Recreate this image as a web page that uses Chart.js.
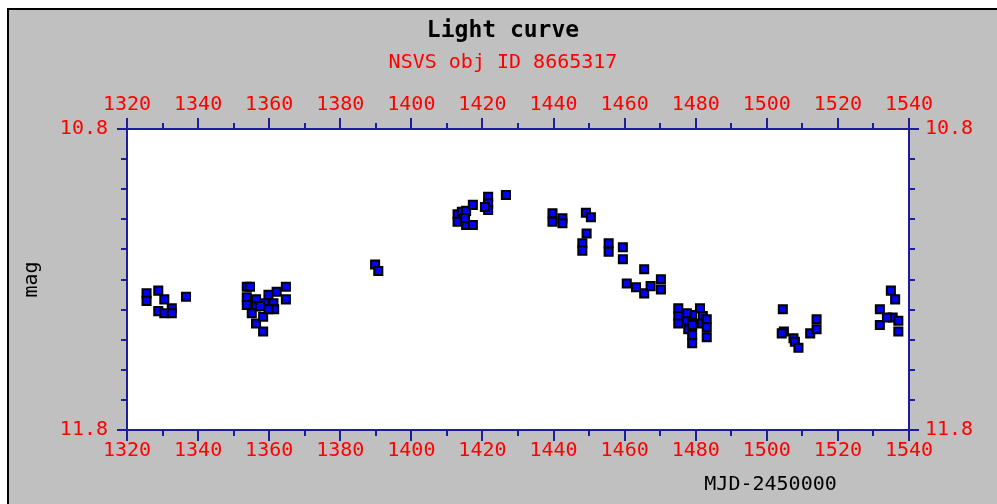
<!DOCTYPE html>
<html>
<head>
<meta charset="utf-8">
<title>Light curve</title>
<script src="https://cdn.jsdelivr.net/npm/chart.js@4/dist/chart.umd.min.js"></script>
<style>
  html, body { margin: 0; padding: 0; background: #fff; }
  #frame {
    position: absolute;
    left: 7px;
    top: 8px;
    width: 988px;
    height: 494px;
    border-top: 2px solid #000;
    border-left: 2px solid #000;
    background: #c0c0c0;
  }
  canvas { display: block; }
</style>
</head>
<body>
<div id="frame"><canvas id="lc" width="988" height="494"></canvas></div>
<script>
// observations: MJD-2450000 and magnitude
const mjd = [
  1325.5, 1325.5, 1328.8, 1330.5, 1328.8, 1330.5, 1332.6, 1332.6, 1336.6,
  1353.7, 1354.6, 1353.7, 1353.7, 1356.3, 1356.3, 1355.1, 1356.3, 1358.3, 1358.3,
  1358.8, 1359.8, 1361.2, 1361.4, 1362.1, 1364.7, 1364.7, 1357.4, 1359.8,
  1389.8, 1390.7,
  1413.0, 1413.0, 1414.2, 1415.4, 1417.3, 1415.4, 1417.3, 1421.6, 1421.6, 1421.6,
  1420.7, 1426.6, 1415.1,
  1439.7, 1439.7, 1442.5, 1442.5, 1449.1, 1450.5, 1449.3, 1448.1, 1448.1, 1455.5,
  1455.5, 1459.5, 1459.5, 1465.5, 1460.6, 1463.2, 1465.5, 1467.3, 1470.2, 1470.2,
  1475.1, 1475.1, 1475.1, 1477.5, 1477.9, 1479.0, 1479.0, 1479.0, 1479.0, 1481.2,
  1482.0, 1481.7, 1483.1, 1483.1, 1483.1, 1477.5,
  1504.5, 1504.8, 1504.2, 1507.5, 1507.9, 1508.9, 1512.2, 1514.0, 1514.0,
  1534.9, 1536.1, 1531.8, 1531.8, 1535.4, 1537.0, 1537.0, 1533.8
];
const mag = [
  11.346, 11.371, 11.337, 11.366, 11.405, 11.412, 11.396, 11.412, 11.357,
  11.324, 11.324, 11.359, 11.385, 11.366, 11.390, 11.412, 11.446, 11.473, 11.424,
  11.379, 11.351, 11.379, 11.399, 11.341, 11.324, 11.366, 11.388, 11.399,
  11.250, 11.272,
  11.083, 11.108, 11.075, 11.072, 11.052, 11.119, 11.119, 11.025, 11.047, 11.069,
  11.059, 11.019, 11.096,
  11.080, 11.108, 11.097, 11.113, 11.078, 11.093, 11.147, 11.180, 11.204, 11.180,
  11.208, 11.193, 11.233, 11.266, 11.313, 11.326, 11.346, 11.322, 11.299, 11.333,
  11.396, 11.421, 11.446, 11.435, 11.465, 11.418, 11.451, 11.484, 11.512, 11.396,
  11.421, 11.446, 11.432, 11.459, 11.492, 11.412,
  11.399, 11.473, 11.479, 11.495, 11.507, 11.527, 11.479, 11.432, 11.465,
  11.337, 11.366, 11.399, 11.451, 11.426, 11.437, 11.473, 11.426
];

// axis ticks
const xMin = 1320, xMax = 1540, xStep = 20;
const xMinorTicks = [1330, 1350, 1370, 1390, 1410, 1430, 1450, 1470, 1490, 1510, 1530];
const yMin = 10.8, yMax = 11.8;
const yTicks = [10.8, 11.8];
const yMinorTicks = [10.9, 11.0, 11.1, 11.2, 11.3, 11.4, 11.5, 11.6, 11.7];

const AXIS = "#1c1c9c";
const RED = "#ff0000";
const FONT = "'DejaVu Sans Mono', 'Liberation Mono', monospace";

// white plot area on the grey page
const plotBg = {
  id: "plotBg",
  beforeDraw(chart) {
    const { ctx, chartArea: a } = chart;
    ctx.save();
    ctx.fillStyle = "#fff";
    ctx.fillRect(a.left, a.top, a.right - a.left, a.bottom - a.top);
    ctx.restore();
  },
};

// short minor ticks between the labelled ones
const minorTicks = {
  id: "minorTicks",
  afterDraw(chart) {
    const { ctx, chartArea: a, scales } = chart;
    const len = 6;
    ctx.save();
    ctx.strokeStyle = AXIS;
    ctx.lineWidth = 2;
    ctx.beginPath();
    for (let v of xMinorTicks) {
      let px = Math.round(scales.x.getPixelForValue(v));
      ctx.moveTo(px, a.bottom);
      ctx.lineTo(px, a.bottom + len);
      ctx.moveTo(px, a.top);
      ctx.lineTo(px, a.top - len);
    }
    for (let v of yMinorTicks) {
      let py = Math.round(scales.y.getPixelForValue(v));
      ctx.moveTo(a.left, py);
      ctx.lineTo(a.left - len, py);
      ctx.moveTo(a.right, py);
      ctx.lineTo(a.right + len, py);
    }
    ctx.stroke();
    ctx.restore();
  },
};

function xAxis(position, fitHeight, pad) {
  return {
    type: "linear",
    position: position,
    min: xMin,
    max: xMax,
    ticks: {
      stepSize: xStep,
      color: RED,
      padding: pad,
      maxRotation: 0,
      callback: (v) => String(v),
      font: { family: FONT, size: 20 },
    },
    grid: { drawOnChartArea: false, tickLength: 11, color: AXIS, lineWidth: 2 },
    border: { color: AXIS, width: 2 },
    afterFit(scale) {
      scale.height = fitHeight;
    },
  };
}

function yAxis(position, fitWidth, pad) {
  return {
    type: "linear",
    position: position,
    reverse: true,
    min: yMin,
    max: yMax,
    afterBuildTicks(scale) {
      scale.ticks = yTicks.map((v) => ({ value: v }));
    },
    ticks: {
      color: RED,
      padding: pad,
      callback: (v) => Number(v).toFixed(1),
      font: { family: FONT, size: 20 },
    },
    grid: { drawOnChartArea: false, tickLength: 10, color: AXIS, lineWidth: 2 },
    border: { color: AXIS, width: 2 },
    afterFit(scale) {
      scale.width = fitWidth;
    },
  };
}

const scales = {
  x: xAxis("bottom", 74, -2),
  x2: xAxis("top", 54.4, 1),
  y: yAxis("left", 118, 9),
  y2: yAxis("right", 88, 6),
};
scales.x.title = {
  display: true,
  text: "MJD-2450000      ",
  align: "end",
  color: "#000",
  padding: { top: 0, bottom: 7 },
  font: { family: FONT, size: 20 },
};
scales.y.title = {
  display: true,
  text: "mag",
  color: "#000",
  padding: { top: 11, bottom: 0 },
  font: { family: FONT, size: 20 },
};

new Chart(document.getElementById("lc"), {
  type: "scatter",
  data: {
    datasets: [
      {
        label: "NSVS 8665317",
        data: mjd.map((x, i) => ({ x: x, y: mag[i] })),
        pointStyle: "rect",
        radius: 5.7,
        backgroundColor: "#0000ff",
        borderColor: "#000",
        borderWidth: 2,
        xAxisID: "x",
        yAxisID: "y",
      },
    ],
  },
  options: {
    responsive: false,
    animation: false,
    events: [],
    layout: { padding: 0 },
    scales: scales,
    plugins: {
      legend: { display: false },
      tooltip: { enabled: false },
      title: {
        display: true,
        text: "Light curve",
        color: "#000",
        padding: { top: 7, bottom: 0 },
        font: { family: FONT, size: 23, weight: "bold" },
      },
      subtitle: {
        display: true,
        text: "NSVS obj ID 8665317",
        color: RED,
        padding: { top: 6, bottom: 0 },
        font: { family: FONT, size: 20 },
      },
    },
  },
  plugins: [plotBg, minorTicks],
});
</script>
</body>
</html>
